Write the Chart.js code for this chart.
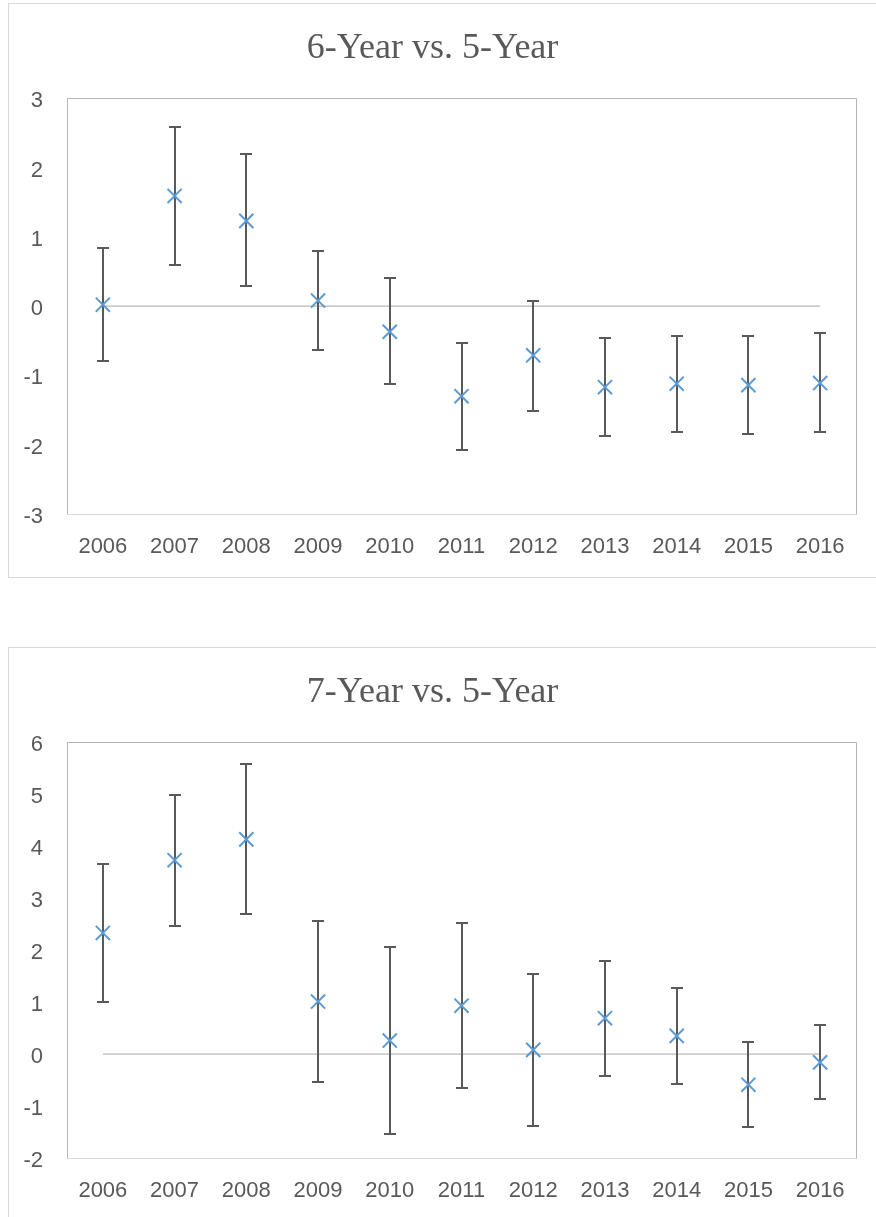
<!DOCTYPE html>
<html><head><meta charset="utf-8">
<script src="https://cdn.jsdelivr.net/npm/chart.js@4.4.0/dist/chart.umd.min.js"></script>
<style>
html,body{margin:0;padding:0;background:#fff;overflow:hidden;width:876px;height:1217px;}
.box{position:absolute;left:8px;width:876px;height:573px;border:1px solid #d9d9d9;background:#fff;}
.box canvas{display:block;}
</style></head><body>
<div class="box" style="top:3px"><canvas id="c1" width="876" height="573"></canvas></div>
<div class="box" style="top:647px"><canvas id="c2" width="876" height="573"></canvas></div>
<script>
// ---- data ----
const years = ['2006','2007','2008','2009','2010','2011','2012','2013','2014','2015','2016'];

const title1 = '6-Year vs. 5-Year';
const mean1 = [0.02, 1.59, 1.23, 0.08, -0.37, -1.30, -0.71, -1.17, -1.12, -1.14, -1.11];
const high1 = [0.84, 2.59, 2.20, 0.80, 0.40, -0.53, 0.07, -0.46, -0.43, -0.43, -0.39];
const low1  = [-0.79, 0.60, 0.29, -0.63, -1.12, -2.07, -1.51, -1.88, -1.82, -1.84, -1.82];
const yMin1 = -3, yMax1 = 3;

const title2 = '7-Year vs. 5-Year';
const mean2 = [2.33, 3.73, 4.13, 1.01, 0.26, 0.93, 0.08, 0.69, 0.35, -0.59, -0.16];
const high2 = [3.65, 4.98, 5.58, 2.56, 2.06, 2.52, 1.54, 1.79, 1.28, 0.23, 0.55];
const low2  = [1.00, 2.47, 2.69, -0.54, -1.54, -0.66, -1.39, -0.42, -0.58, -1.41, -0.87];
const yMin2 = -2, yMax2 = 6;

const zeroLine = years.map(() => 0);

// ---- plugins ----
const framePlugin = {
  id: 'frame',
  beforeDatasetsDraw(chart) {
    const a = chart.chartArea, ctx = chart.ctx;
    ctx.save();
    ctx.lineWidth = 1;
    ctx.strokeStyle = '#b4b4b4';
    ctx.beginPath();
    ctx.moveTo(Math.round(a.left) + 0.5, Math.round(a.bottom) + 0.5);
    ctx.lineTo(Math.round(a.left) + 0.5, Math.round(a.top) + 0.5);
    ctx.lineTo(Math.round(a.right) + 0.5, Math.round(a.top) + 0.5);
    ctx.lineTo(Math.round(a.right) + 0.5, Math.round(a.bottom) + 0.5);
    ctx.stroke();
    ctx.strokeStyle = '#d9d9d9';
    ctx.beginPath();
    ctx.moveTo(Math.round(a.left) + 0.5, Math.round(a.bottom) + 0.5);
    ctx.lineTo(Math.round(a.right) + 0.5, Math.round(a.bottom) + 0.5);
    ctx.stroke();
    ctx.restore();
  }
};

const errorBarPlugin = {
  id: 'errorBars',
  afterDatasetDraw(chart, args, opts) {
    const ds = chart.data.datasets[args.index];
    if (ds.id !== 'zero') return;
    const xs = chart.scales.x, ys = chart.scales.y, ctx = chart.ctx;
    ctx.save();
    ctx.strokeStyle = '#595959';
    ctx.lineWidth = 2;
    ctx.lineCap = 'butt';
    opts.low.forEach((lo, i) => {
      const px = Math.round(xs.getPixelForValue(i));
      const yl = Math.round(ys.getPixelForValue(lo));
      const yh = Math.round(ys.getPixelForValue(opts.high[i]));
      ctx.beginPath();
      ctx.moveTo(px, yh); ctx.lineTo(px, yl);
      ctx.moveTo(px - 6, yh); ctx.lineTo(px + 6, yh);
      ctx.moveTo(px - 6, yl); ctx.lineTo(px + 6, yl);
      ctx.stroke();
    });
    ctx.restore();
  }
};

function makeChart(id, title, mean, high, low, yMin, yMax) {
  return new Chart(document.getElementById(id), {
    type: 'line',
    data: {
      labels: years,
      datasets: [
        { id: 'zero', data: zeroLine, borderColor: '#a6a6a6', borderWidth: 1, pointRadius: 0, fill: false, order: 2 },
        { id: 'mean', data: mean, showLine: false, pointStyle: 'crossRot', pointRadius: 10, pointBorderWidth: 2,
          pointBorderColor: '#5b9bd5', pointBackgroundColor: '#5b9bd5', borderColor: '#5b9bd5', order: 1 }
      ]
    },
    options: {
      responsive: false,
      devicePixelRatio: 1,
      animation: false,
      layout: { padding: { left: 0, right: 29, top: 0, bottom: 0 } },
      plugins: {
        legend: { display: false },
        tooltip: { enabled: false },
        title: {
          display: true, text: title, color: '#595959',
          font: { family: '"Liberation Serif", "Times New Roman", serif', size: 36, weight: 'normal', lineHeight: 1.2 },
          padding: { top: 23, bottom: 28 }
        },
        errorBars: { low: low, high: high }
      },
      scales: {
        x: {
          offset: true,
          grid: { display: false, drawTicks: false },
          border: { display: false },
          ticks: { color: '#595959', padding: 20, maxRotation: 0,
                   font: { family: '"Liberation Sans", Arial, sans-serif', size: 22 } },
          afterFit(s) { s.height = 63; }
        },
        y: {
          min: yMin, max: yMax,
          grid: { display: false, drawTicks: false },
          border: { display: false },
          ticks: { stepSize: 1, color: '#595959', padding: 24, labelOffset: 3,
                   font: { family: '"Liberation Sans", Arial, sans-serif', size: 22 } },
          afterFit(s) { s.width = 58; }
        }
      }
    },
    plugins: [framePlugin, errorBarPlugin]
  });
}

makeChart('c1', title1, mean1, high1, low1, yMin1, yMax1);
makeChart('c2', title2, mean2, high2, low2, yMin2, yMax2);
</script>
</body></html>
